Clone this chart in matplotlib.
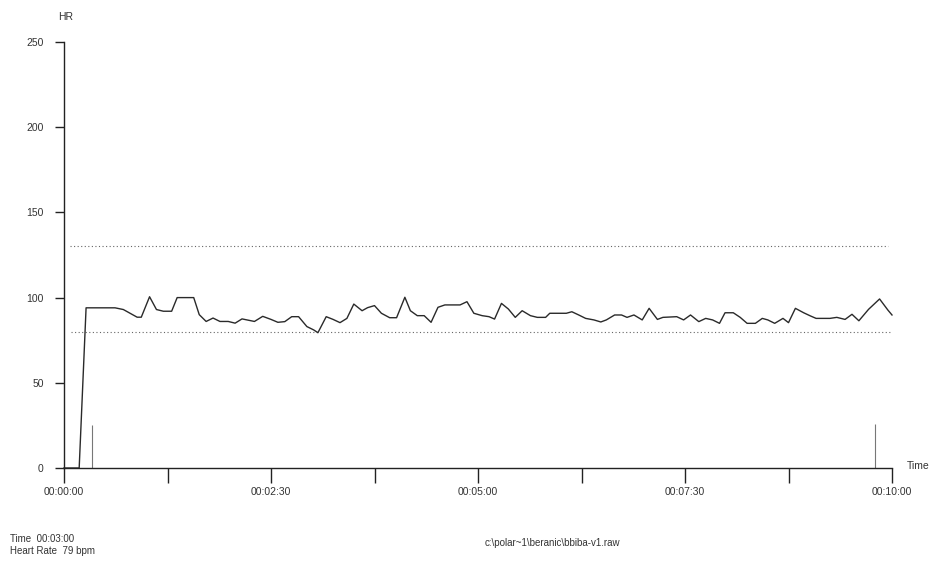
import matplotlib.pyplot as plt
from matplotlib.ticker import FixedLocator

# heart rate trace (time in seconds, bpm)
times_s = [0, 11, 16, 37, 43, 53, 56, 62, 67, 72, 78, 82, 94, 98, 103, 108, 113,
           119, 124, 129, 138, 144, 150, 155, 160, 165, 170, 176, 181, 184, 190,
           195, 200, 205, 210, 216, 220, 225, 230, 236, 241, 247, 251, 256, 261,
           266, 271, 276, 287, 292, 297, 303, 308, 312, 317, 322, 327, 332, 338,
           343, 349, 352, 364, 368, 373, 378, 384, 389, 393, 399, 404, 408, 413,
           419, 424, 430, 434, 444, 449, 454, 460, 465, 470, 475, 479, 485, 490,
           495, 501, 506, 510, 515, 521, 525, 530, 536, 541, 545, 555, 560, 566,
           571, 576, 583, 591, 597, 600]
hr_bpm = [0, 0, 94, 94, 93, 88.5, 88.5, 100.5, 93, 92, 92, 100, 100, 90, 86, 88, 86,
          86, 85, 87.5, 86, 89, 87.2, 85.5, 85.9, 88.8, 88.8, 83, 81, 79.4, 88.8,
          87.2, 85.3, 87.8, 96.2, 92.3, 94.1, 95.3, 90.8, 88.2, 88.2, 100.2, 92.3, 89.4, 89.4,
          85.5, 94.3, 95.7, 95.7, 97.6, 90.8, 89.4, 88.8, 87.4, 96.6, 93.3, 88.4, 92.3, 89.4,
          88.4, 88.4, 90.8, 90.8, 91.7, 89.8, 87.8, 86.9, 85.7, 86.9, 89.8, 89.8, 88.4, 89.8,
          86.9, 93.7, 87.2, 88.4, 88.8, 86.9, 89.8, 85.9, 87.8, 86.9, 84.9, 91.1, 91.1, 88.4,
          84.9, 84.9, 87.8, 86.9, 84.9, 87.8, 85.3, 93.7, 91.1, 89.2, 87.8, 87.8, 88.4, 87.2,
          90.2, 86.4, 93.1, 99.2, 92.7, 89.8]

# marker spikes
spike_times = [20, 588]
spike_heights = [25, 26]

upper_limit = 130
lower_limit = 80

major_ticks = [0, 150, 300, 450, 600]
major_labels = ['00:00:00', '00:02:30', '00:05:00', '00:07:30', '00:10:00']
minor_ticks = [75, 225, 375, 525]

plt.rcParams['font.family'] = ['Liberation Sans', 'DejaVu Sans']

fig = plt.figure(figsize=(9.4, 5.66), dpi=100)
ax = fig.add_axes([64 / 940, 1 - 468 / 566, (892 - 64) / 940, (468 - 42) / 566])

ax.hlines(upper_limit, 4, 597, colors='#666666', linestyles=(0, (1, 2.2)), linewidth=0.8)
ax.hlines(lower_limit, 5, 600, colors='#666666', linestyles=(0, (1, 2.2)), linewidth=0.8)

ax.plot(times_s, hr_bpm, color='#2a2a2a', linewidth=1.0, clip_on=False)
ax.vlines(spike_times, 0, spike_heights, colors='#777777', linewidth=0.8)

ax.set_xlim(0, 600)
ax.set_ylim(0, 250)

for s in ['top', 'right']:
    ax.spines[s].set_visible(False)
for s in ['left', 'bottom']:
    ax.spines[s].set_linewidth(1.0)
    ax.spines[s].set_color('#222222')

ax.set_yticks([0, 50, 100, 150, 200, 250])
ax.tick_params(axis='y', direction='out', length=6.5, width=1.0, color='#222222',
               labelsize=7.5, labelcolor='#333333', pad=8)
ax.xaxis.set_major_locator(FixedLocator(major_ticks))
ax.xaxis.set_minor_locator(FixedLocator(minor_ticks))
ax.set_xticklabels(major_labels)
ax.tick_params(axis='x', which='both', direction='out', length=11, width=1.0,
               color='#222222', labelsize=7.5, labelcolor='#333333', pad=3)

fig.text(58 / 940, 1 - 17 / 566, 'HR', fontsize=7.5, color='#333333', va='center')
fig.text(907 / 940, 1 - 466 / 566, 'Time', fontsize=7.5, color='#333333', va='center')
fig.text(10 / 940, 1 - 539 / 566, 'Time  00:03:00', fontsize=7, color='#333333', va='center')
fig.text(10 / 940, 1 - 551 / 566, 'Heart Rate  79 bpm', fontsize=7, color='#333333', va='center')
fig.text(485 / 940, 1 - 543 / 566, 'c:\\polar~1\\beranic\\bbiba-v1.raw', fontsize=7,
         color='#333333', va='center')

fig.savefig('out.png', dpi=100)
